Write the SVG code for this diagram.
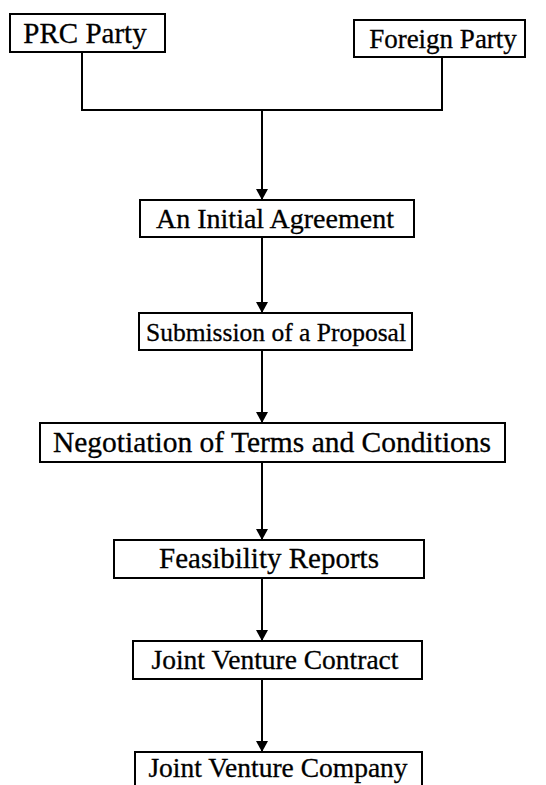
<svg xmlns="http://www.w3.org/2000/svg" width="546" height="785" viewBox="0 0 546 785">
<defs>
<marker id="arr" markerWidth="12" markerHeight="12" refX="11" refY="6" orient="auto" markerUnits="userSpaceOnUse" viewBox="0 0 12 12">
<path d="M0,0 L11,6 L0,12 Z" fill="#000"/>
</marker>
</defs>
<style>
.box{fill:#fff;stroke:#000;stroke-width:2}
.lbl{font-family:"Liberation Serif","Times New Roman",serif;font-size:27.5px;fill:#000;stroke:#000;stroke-width:0.3;text-anchor:middle}
.ln{fill:none;stroke:#000;stroke-width:2}
</style>
<rect width="546" height="785" fill="#fff"/>
<g id="connectors">
<polyline class="ln" points="82,52 82,110 442,110 442,57"/>
<line class="ln" x1="262" y1="110" x2="262" y2="200" marker-end="url(#arr)"/>
<line class="ln" x1="262" y1="237" x2="262" y2="313" marker-end="url(#arr)"/>
<line class="ln" x1="262" y1="350" x2="262" y2="423" marker-end="url(#arr)"/>
<line class="ln" x1="262" y1="462" x2="262" y2="540" marker-end="url(#arr)"/>
<line class="ln" x1="262" y1="578" x2="262" y2="641" marker-end="url(#arr)"/>
<line class="ln" x1="262" y1="679" x2="262" y2="752" marker-end="url(#arr)"/>
</g>
<g id="prc"><rect class="box" x="10" y="14" width="155" height="38"/><text class="lbl" x="85" y="43" style="font-size:29px">PRC Party</text></g>
<g id="foreign"><rect class="box" x="354" y="20" width="171" height="37"/><text class="lbl" x="443" y="48" style="font-size:27px">Foreign Party</text></g>
<g id="initial"><rect class="box" x="140" y="200" width="274" height="37"/><text class="lbl" x="275" y="228" style="font-size:28px">An Initial Agreement</text></g>
<g id="submission"><rect class="box" x="139" y="313" width="273" height="37"/><text class="lbl" x="276" y="341" style="font-size:25.5px">Submission of a Proposal</text></g>
<g id="negotiation"><rect class="box" x="40" y="423" width="465" height="39"/><text class="lbl" x="272" y="452" style="font-size:29.5px">Negotiation of Terms and Conditions</text></g>
<g id="feasibility"><rect class="box" x="114" y="540" width="310" height="38"/><text class="lbl" x="269" y="568" style="font-size:29px">Feasibility Reports</text></g>
<g id="contract"><rect class="box" x="133" y="641" width="289" height="38"/><text class="lbl" x="275" y="669">Joint Venture Contract</text></g>
<g id="company"><rect class="box" x="135" y="752" width="287" height="40"/><text class="lbl" x="278" y="777">Joint Venture Company</text></g>
</svg>
